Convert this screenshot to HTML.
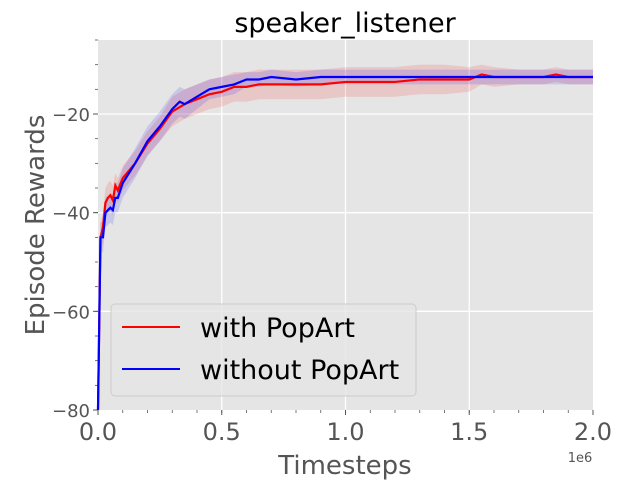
<!DOCTYPE html>
<html><head><meta charset="utf-8"><style>
body{margin:0;background:#fff;}
svg{display:block;font-family:"DejaVu Sans","Liberation Sans",sans-serif;}
</style></head><body>
<svg id="chart" width="625" height="491" viewBox="0 0 625 491"></svg>
<script>
const redX=[0,0.01,0.02,0.03,0.04,0.05,0.06,0.07,0.08,0.1,0.15,0.2,0.25,0.3,0.35,0.4,0.45,0.5,0.55,0.6,0.65,0.7,0.8,0.9,1.0,1.1,1.2,1.3,1.4,1.5,1.55,1.6,1.7,1.8,1.85,1.9,2.0];
const redY=[-80,-45,-43,-38,-37,-36.5,-37.5,-34.5,-35.5,-33,-30,-26,-23,-19.5,-18,-17,-16,-15.5,-14.5,-14.5,-14,-14,-14,-14,-13.5,-13.5,-13.5,-13,-13,-13,-12,-12.5,-12.5,-12.5,-12,-12.5,-12.5];
const redSpread=[0,3,3,3,3,3,3,2.5,2.5,2.5,2.5,2.5,2.5,3,3,3,3,3,3,3,3,3,3,3,3,3,3,3,3,2.5,2,2,1.5,1.5,1.5,1.5,1.5];
const blueX=[0,0.01,0.02,0.03,0.05,0.06,0.07,0.08,0.1,0.15,0.2,0.25,0.3,0.33,0.35,0.4,0.45,0.5,0.55,0.6,0.65,0.7,0.8,0.9,1.0,1.1,1.2,1.3,1.4,1.5,1.6,1.7,1.8,1.9,2.0];
const blueY=[-80,-45,-45,-40,-39,-39.5,-37,-37,-34,-30,-25.5,-22.5,-19,-17.5,-18,-16.5,-15,-14.5,-14,-13,-13,-12.5,-13,-12.5,-12.5,-12.5,-12.5,-12.5,-12.5,-12.5,-12.5,-12.5,-12.5,-12.5,-12.5];
const blueSpread=[0,3,3,3,3,3,3,3,3,3,3,3,3,3,3,2.5,2,2,2,1.5,1.5,1.5,1.5,1.5,1.5,1.5,1.5,1.5,1.5,1.5,1.5,1.5,1.5,1.5,1.5];
const xTicks=[0,0.5,1.0,1.5,2.0];
const xTickLabels=["0.0","0.5","1.0","1.5","2.0"];
const yTicks=[-80,-60,-40,-20];
const yTickLabels=["\u221280","\u221260","\u221240","\u221220"];

const L=98,R=593,T=40,B=410,xMin=0,xMax=2,yMin=-80,yMax=-5;
const sx=v=>L+(v-xMin)/(xMax-xMin)*(R-L);
const sy=v=>B-(v-yMin)/(yMax-yMin)*(B-T);
const NS="http://www.w3.org/2000/svg";
const svg=document.getElementById('chart');
function mk(tag,attrs,parent){const e=document.createElementNS(NS,tag);for(const k in attrs)e.setAttribute(k,attrs[k]);(parent||svg).appendChild(e);return e;}

const bg=mk('rect',{x:L,y:T,width:R-L,height:B-T,fill:'#e5e5e5'});


xTicks.forEach((t,i)=>{
  if(i>0&&i<xTicks.length-1){const g=mk('line',{x1:sx(t),x2:sx(t),y1:T,y2:B,stroke:'#fff','stroke-width':1.3});
  
  }
  const tl=mk('text',{x:sx(t),y:B+30,'text-anchor':'middle','font-size':24,fill:'#555'});tl.textContent=xTickLabels[i];
  
  
  mk('line',{x1:sx(t),x2:sx(t),y1:B,y2:B+5,stroke:'#555'});
});
for(let m=0.1;m<2;m+=0.1){mk('line',{x1:sx(m),x2:sx(m),y1:B,y2:B+3,stroke:'#555','stroke-width':0.8});}
yTicks.forEach((t,i)=>{
  if(i>0){const g=mk('line',{x1:L,x2:R,y1:sy(t),y2:sy(t),stroke:'#fff','stroke-width':1.3});
  
  }
  const tl=mk('text',{x:L-8,y:sy(t)+7,'text-anchor':'end','font-size':18,fill:'#555'});tl.textContent=yTickLabels[i];
  
  
  mk('line',{x1:L-5,x2:L,y1:sy(t),y2:sy(t),stroke:'#555'});
});
for(let m=-75;m<=-5;m+=5){mk('line',{x1:L-3,x2:L,y1:sy(m),y2:sy(m),stroke:'#555','stroke-width':0.8});}

function band(xs,ys,sp,col,name){
  let d='M'+xs.map((x,i)=>sx(x)+','+sy(ys[i]+sp[i])).join('L');
  for(let i=xs.length-1;i>=0;i--)d+='L'+sx(xs[i])+','+sy(ys[i]-sp[i]);
  const p=mk('path',{d:d+'Z',fill:col,'fill-opacity':0.13});
  
  
}
function line(xs,ys,col,name){
  const p=mk('path',{d:'M'+xs.map((x,i)=>sx(x)+','+sy(ys[i])).join('L'),fill:'none',stroke:col,'stroke-width':2.2});
  
  
}
band(redX,redY,redSpread,'red','red-band');
band(blueX,blueY,blueSpread,'blue','blue-band');
line(redX,redY,'red','with-popart-line');
line(blueX,blueY,'blue','without-popart-line');

const title=mk('text',{x:345,y:32,'text-anchor':'middle','font-size':27,fill:'#000'});title.textContent='speaker_listener';


const xl=mk('text',{x:345,y:474,'text-anchor':'middle','font-size':26,fill:'#555'});xl.textContent='Timesteps';


const ex=mk('text',{x:580,y:462,'text-anchor':'middle','font-size':13,fill:'#555'});ex.textContent='1e6';


const yl=mk('text',{x:0,y:0,'text-anchor':'middle','font-size':26,fill:'#555',transform:'translate(44,225) rotate(-90)'});yl.textContent='Episode Rewards';



const lg=mk('g',{});


mk('rect',{x:111,y:304,width:305,height:92,rx:4,fill:'#e5e5e5','fill-opacity':0.8,stroke:'#ccc'},lg);
[['red','with PopArt',327],['blue','without PopArt',369]].forEach(([c,t,y])=>{
  const e=mk('g',{},lg);
  
  
  mk('line',{x1:122,x2:180,y1:y,y2:y,stroke:c,'stroke-width':2},e);
  const tx=mk('text',{x:200,y:y+10,'font-size':27,fill:'#000'},e);tx.textContent=t;
});
</script>
</body></html>
